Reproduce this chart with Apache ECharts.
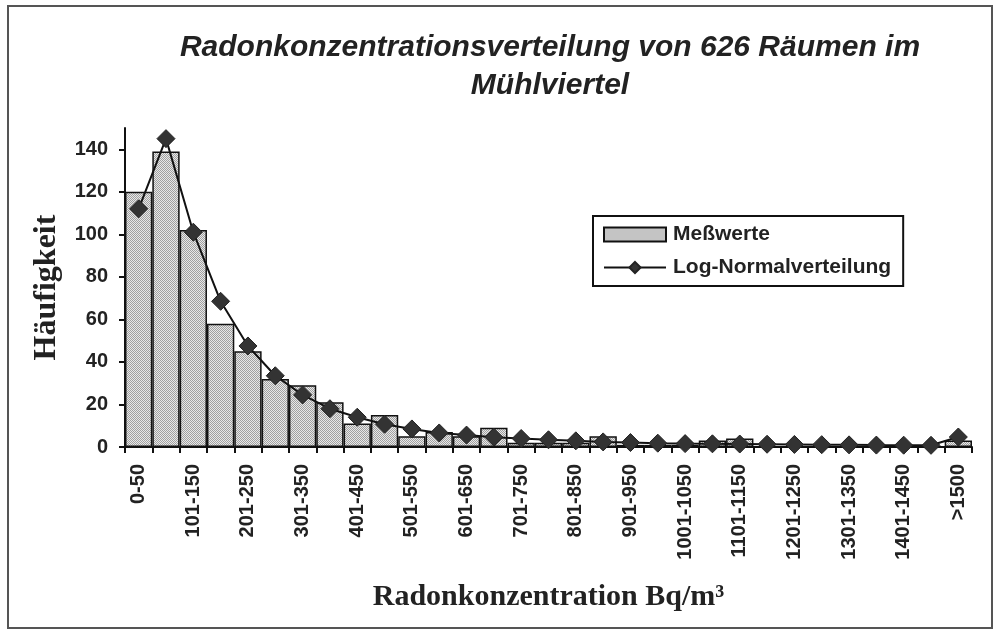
<!DOCTYPE html>
<html>
<head>
<meta charset="utf-8">
<script src="https://cdn.jsdelivr.net/npm/echarts@6/dist/echarts.min.js"></script>
<style>
  html, body { margin: 0; padding: 0; background: #fff; }
  #main { width: 1001px; height: 637px; }
</style>
</head>
<body>
<div id="main"></div>
<script>
// Klassen der Radonkonzentration (Bq/m³)
var categories = ['0-50', '51-100', '101-150', '151-200', '201-250', '251-300', '301-350', '351-400',
  '401-450', '451-500', '501-550', '551-600', '601-650', '651-700', '701-750', '751-800',
  '801-850', '851-900', '901-950', '951-1000', '1001-1050', '1051-1100', '1101-1150', '1151-1200',
  '1201-1250', '1251-1300', '1301-1350', '1351-1400', '1401-1450', '1451-1500', '>1500'];
// Meßwerte (Anzahl Räume)
var messwerte = [120, 139, 102, 58, 45, 32, 29, 21, 11, 15, 5, 7, 5, 9, 2, 2,
  2, 5, 1, 1, 1, 3, 4, 0, 0, 0, 0, 0, 0, 0, 3];
// angepasste Log-Normalverteilung
var lognormal = [112, 145, 101, 68.5, 47.5, 33.5, 24.5, 18, 14, 10.7, 8.5, 6.6, 5.6, 4.6, 4, 3.4,
  2.9, 2.4, 2.1, 1.8, 1.6, 1.5, 1.4, 1.3, 1.2, 1.1, 1.0, 0.9, 0.85, 0.8, 4.7];
var yTicks = [0, 20, 40, 60, 80, 100, 120, 140];

// Punktraster fuer die Balken
var pat = document.createElement('canvas');
pat.width = 2; pat.height = 2;
var pctx = pat.getContext('2d');
pctx.fillStyle = '#e8e8e8'; pctx.fillRect(0, 0, 2, 2);
pctx.fillStyle = '#a0a0a0'; pctx.fillRect(0, 0, 1, 1); pctx.fillRect(1, 1, 1, 1);

var myChart = echarts.init(document.getElementById('main'));
var option = {
  backgroundColor: '#fff',
  animation: false,
  title: {
    text: 'Radonkonzentrationsverteilung von 626 Räumen im\nMühlviertel',
    left: 545, top: 24, textAlign: 'center',
    textStyle: { fontFamily: 'Liberation Sans', fontSize: 30, fontWeight: 'bold', fontStyle: 'italic',
      color: '#222', lineHeight: 38 }
  },
  legend: {
    left: 593, top: 216, orient: 'vertical',
    padding: [8, 12, 8, 10],
    itemGap: 12,
    itemWidth: 62, itemHeight: 14,
    borderColor: '#111', borderWidth: 2,
    textStyle: { fontFamily: 'Liberation Sans', fontSize: 21, fontWeight: 'bold', color: '#222', padding: [0, 0, 0, 2] },
    data: [
      { name: 'Meßwerte', icon: 'rect', itemStyle: { color: { image: pat, repeat: 'repeat' }, borderColor: '#111', borderWidth: 2 } },
      { name: 'Log-Normalverteilung' }
    ]
  },
  grid: { left: 125, right: 29, top: 128, bottom: 190, containLabel: false },
  xAxis: {
    type: 'category',
    data: categories,
    name: 'Radonkonzentration Bq/m³',
    nameLocation: 'middle',
    nameGap: 135,
    nameTextStyle: { fontFamily: 'Liberation Serif', fontSize: 30, fontWeight: 'bold', color: '#222' },
    axisLine: { lineStyle: { color: '#111', width: 2 } },
    axisTick: { show: true, interval: 0, length: 6, lineStyle: { color: '#111', width: 2 } },
    axisLabel: { interval: 1, rotate: 90, margin: 17, fontFamily: 'Liberation Sans', fontSize: 20,
      fontWeight: 'bold', color: '#222' }
  },
  yAxis: {
    type: 'value',
    min: 0, max: 150, interval: 20,
    name: 'Häufigkeit',
    nameLocation: 'middle',
    nameGap: 62,
    nameRotate: 90,
    nameTextStyle: { fontFamily: 'Liberation Serif', fontSize: 32, fontWeight: 'bold', color: '#222' },
    axisLine: { show: true, lineStyle: { color: '#111', width: 2 } },
    axisTick: { show: true, length: 6, customValues: yTicks, lineStyle: { color: '#111', width: 2 } },
    axisLabel: { customValues: yTicks, margin: 17, fontFamily: 'Liberation Sans', fontSize: 20,
      fontWeight: 'bold', color: '#222' },
    splitLine: { show: false }
  },
  series: [
    {
      name: 'Meßwerte',
      type: 'bar',
      data: messwerte,
      barCategoryGap: '0%',
      itemStyle: { color: { image: pat, repeat: 'repeat' }, borderColor: '#111', borderWidth: 1.5 }
    },
    {
      name: 'Log-Normalverteilung',
      type: 'line',
      data: lognormal,
      symbol: 'diamond',
      symbolSize: 18,
      lineStyle: { color: '#111', width: 2 },
      itemStyle: { color: '#333', borderColor: '#222', borderWidth: 1 }
    }
  ],
  graphic: [{
    type: 'rect', silent: true,
    shape: { x: 8, y: 6, width: 984, height: 622 },
    style: { fill: null, stroke: '#555', lineWidth: 2 }
  }]
};
myChart.setOption(option);
</script>
</body>
</html>
